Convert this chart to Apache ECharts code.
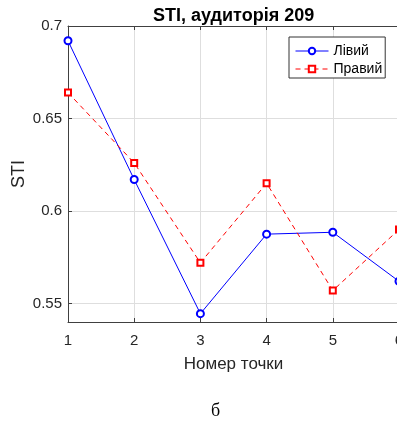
<!DOCTYPE html>
<html><head><meta charset="utf-8">
<script src="https://cdn.jsdelivr.net/npm/echarts@6/dist/echarts.min.js"></script>
<style>html,body{margin:0;padding:0;background:#fff;overflow:hidden;width:397px;height:426px}#c{width:420px;height:426px}</style>
</head><body><div id="c"></div>
<script>
const points = [1, 2, 3, 4, 5, 6];
const leftValues = [0.692, 0.617, 0.5445, 0.5875, 0.5885, 0.562];
const rightValues = [0.664, 0.626, 0.572, 0.615, 0.557, 0.590];
const yTicks = [0.55, 0.6, 0.65, 0.7];
const xTicks = [1, 2, 3, 4, 5, 6];
const seriesNames = ['Лівий', 'Правий'];
const titleText = 'STI, аудиторія 209';
const xName = 'Номер точки';
const yName = 'STI';
const captionText = 'б';

const chart = echarts.init(document.getElementById('c'), null, {renderer: 'canvas'});
const font = 'Liberation Sans, Arial, sans-serif';
const axisColor = '#404040';
const gridColor = '#dedede';
chart.setOption({
  animation: false,
  backgroundColor: '#fff',
  title: {
    text: titleText, left: 148, top: 2,
    textStyle: {fontFamily: font, fontSize: 18, fontWeight: 'bold', color: '#000'}
  },
  legend: {
    orient: 'vertical', left: 289, top: 37,
    padding: [7, 3, 2, 6], itemGap: 4, itemWidth: 33, itemHeight: 8,
    borderColor: '#333', borderWidth: 1, backgroundColor: '#fff', borderRadius: 0,
    textStyle: {fontFamily: font, fontSize: 14, color: '#000'},
    lineStyle: {width: 1}, itemStyle: {borderWidth: 1},
    data: seriesNames
  },
  grid: {left: 68, top: 26, width: 331, height: 296, containLabel: false, outerBoundsMode: 'none'},
  xAxis: [{
    type: 'value', min: 1, max: 6, interval: 1,
    name: xName, nameLocation: 'middle', nameGap: 34, nameMoveOverlap: false,
    nameTextStyle: {fontFamily: font, fontSize: 17, color: '#262626'},
    axisLine: {show: true, onZero: false, lineStyle: {color: axisColor}},
    axisTick: {show: true, inside: true, length: 4, lineStyle: {color: axisColor}},
    axisLabel: {fontFamily: font, fontSize: 15, color: '#262626', margin: 11,
      customValues: xTicks, formatter: v => String(v)},
    splitLine: {show: true, lineStyle: {color: gridColor}}
  }, {
    type: 'value', min: 1, max: 6, interval: 1, position: 'top',
    axisLine: {show: true, onZero: false, lineStyle: {color: axisColor}},
    axisTick: {show: true, inside: true, length: 4, lineStyle: {color: axisColor}},
    axisLabel: {show: false}, splitLine: {show: false}
  }],
  yAxis: [{
    type: 'value', min: 0.54, max: 0.7,
    name: yName, nameLocation: 'middle', nameGap: 40, nameMoveOverlap: false,
    nameTextStyle: {fontFamily: font, fontSize: 18, color: '#262626'},
    axisLine: {show: true, onZero: false, lineStyle: {color: axisColor}},
    axisTick: {show: true, inside: true, length: 4, customValues: yTicks, lineStyle: {color: axisColor}},
    axisLabel: {fontFamily: font, fontSize: 15, color: '#262626', margin: 6,
      customValues: yTicks, formatter: v => String(+v.toFixed(2))},
    splitLine: {show: true, lineStyle: {color: gridColor}}
  }],
  series: [{
    name: seriesNames[0], type: 'line', xAxisIndex: 0,
    data: points.map((p, i) => [p, leftValues[i]]),
    symbol: 'emptyCircle', symbolSize: 7,
    lineStyle: {color: '#0000ff', width: 1},
    itemStyle: {color: '#0000ff', borderWidth: 1},
    clip: false
  }, {
    name: seriesNames[1], type: 'line', xAxisIndex: 0,
    data: points.map((p, i) => [p, rightValues[i]]),
    symbol: 'emptyRect', symbolSize: 6,
    lineStyle: {color: '#ff0000', width: 1, type: [5, 4]},
    itemStyle: {color: '#ff0000', borderWidth: 1},
    clip: false
  }],
  graphic: [{
    type: 'text', left: 211, top: 402,
    style: {text: captionText, font: '18px "Liberation Serif", "Times New Roman", serif', fill: '#000'}
  }]
});
</script></body></html>
